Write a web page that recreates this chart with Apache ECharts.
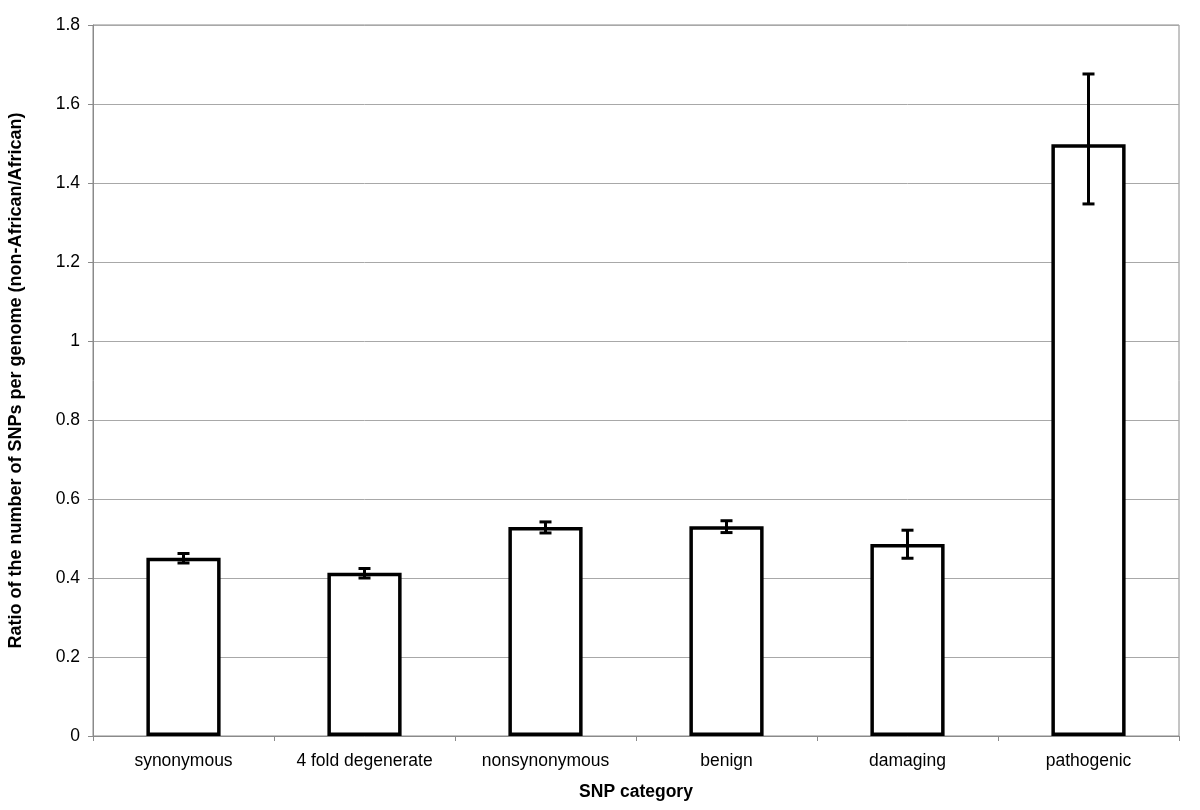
<!DOCTYPE html>
<html>
<head>
<meta charset="utf-8">
<script src="https://cdn.jsdelivr.net/npm/echarts@6/dist/echarts.min.js"></script>
<style>
html,body{margin:0;padding:0;background:#fff;}
#chart{width:1200px;height:810px;}
</style>
</head>
<body>
<div id="chart"></div>
<script>
const categories = ['synonymous', '4 fold degenerate', 'nonsynonymous', 'benign', 'damaging', 'pathogenic'];
const ratios = [0.451, 0.413, 0.529, 0.531, 0.486, 1.498];
const errLow = [0.438, 0.400, 0.514, 0.515, 0.450, 1.347];
const errHigh = [0.462, 0.424, 0.542, 0.545, 0.521, 1.676];
const yTicks = [0, 0.2, 0.4, 0.6, 0.8, 1, 1.2, 1.4, 1.6, 1.8];

const font = 'Liberation Sans, Arial, Helvetica, sans-serif';
const errData = categories.map((c, i) => [i, errLow[i], errHigh[i]]);

const chart = echarts.init(document.getElementById('chart'));
chart.setOption({
  animation: false,
  backgroundColor: '#fff',
  grid: {left: 93, right: 21, top: 25, bottom: 74, show: true, borderColor: '#8a8a8a', borderWidth: 1,
         outerBoundsMode: 'none', containLabel: false},
  xAxis: {
    type: 'category',
    data: categories,
    name: 'SNP category',
    nameLocation: 'middle',
    nameGap: 47,
    nameTextStyle: {fontFamily: font, fontSize: 17.5, fontWeight: 'bold', color: '#000'},
    axisLine: {lineStyle: {color: '#8a8a8a', width: 1}},
    axisTick: {show: true, length: 5, lineStyle: {color: '#8a8a8a'}},
    axisLabel: {fontFamily: font, fontSize: 17.5, color: '#000', margin: 16}
  },
  yAxis: {
    type: 'value',
    min: 0, max: 1.8, interval: 0.2,
    name: 'Ratio of the number of SNPs per genome (non-African/African)',
    nameLocation: 'middle',
    nameGap: 68,
    nameTextStyle: {fontFamily: font, fontSize: 18, fontWeight: 'bold', color: '#000'},
    axisLine: {show: true, lineStyle: {color: '#8a8a8a', width: 1}},
    axisTick: {show: true, length: 5, lineStyle: {color: '#8a8a8a'}},
    axisLabel: {fontFamily: font, fontSize: 17.5, color: '#000', margin: 13,
      formatter: v => { const t = yTicks.find(x => Math.abs(x - v) < 1e-9); return String(t !== undefined ? t : v); }},
    splitLine: {lineStyle: {color: '#a8a8a8', width: 1}}
  },
  series: [
    {
      type: 'bar',
      data: ratios,
      barWidth: '41%',
      itemStyle: {color: '#fff', borderColor: '#000', borderWidth: 3.5},
      z: 2
    },
    {
      type: 'custom',
      data: errData,
      z: 5,
      renderItem: function (params, api) {
        const i = api.value(0);
        const lo = api.coord([i, api.value(1)]);
        const hi = api.coord([i, api.value(2)]);
        const hw = 6;
        const style = {stroke: '#000', lineWidth: 3, fill: null};
        return {
          type: 'group',
          children: [
            {type: 'line', shape: {x1: hi[0], y1: hi[1], x2: lo[0], y2: lo[1]}, style: style},
            {type: 'line', shape: {x1: hi[0] - hw, y1: hi[1], x2: hi[0] + hw, y2: hi[1]}, style: style},
            {type: 'line', shape: {x1: lo[0] - hw, y1: lo[1], x2: lo[0] + hw, y2: lo[1]}, style: style}
          ]
        };
      }
    }
  ]
});
</script>
</body>
</html>
